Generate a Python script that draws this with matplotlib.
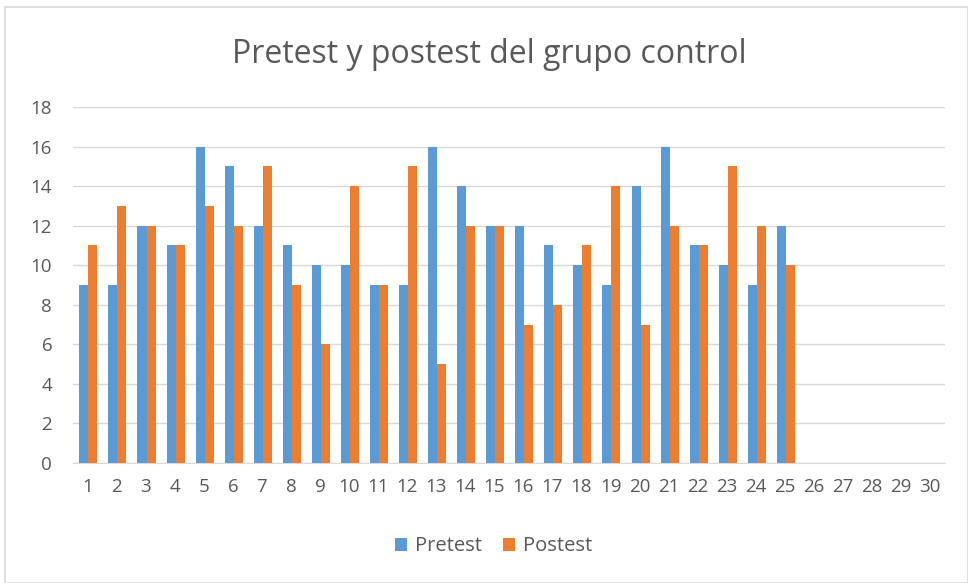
import numpy as np
import matplotlib
matplotlib.use("Agg")
import matplotlib.pyplot as plt
from matplotlib.patches import Rectangle

# data
categories = [str(i) for i in range(1, 31)]
pretest = [9, 9, 12, 11, 16, 15, 12, 11, 10, 10, 9, 9, 16, 14, 12, 12, 11, 10, 9, 14, 16, 11, 10, 9, 12]
postest = [11, 13, 12, 11, 13, 12, 15, 9, 6, 14, 9, 15, 5, 12, 12, 7, 8, 11, 14, 7, 12, 11, 15, 12, 10]

plt.rcParams['font.family'] = ['Open Sans', 'DejaVu Sans']
text_color = '#595959'
blue = '#5B9BD5'
orange = '#ED7D31'

fig = plt.figure(figsize=(9.68, 5.83), dpi=100)
ax = fig.add_axes([0.0754, 0.2058, 0.9006, 0.6107])

# light frame around the whole chart
fig.patches.append(Rectangle((0.005, 0.0), 0.995, 0.988, transform=fig.transFigure,
                             fill=False, edgecolor='#D9D9D9', linewidth=1.2))

x = np.arange(len(categories))
n = len(pretest)
w = 0.31
ax.bar(x[:n] - w / 2 + 0.03, pretest, width=w, color=blue, label='Pretest', zorder=3)
ax.bar(x[:n] + w / 2 + 0.03, postest, width=w, color=orange, label='Postest', zorder=3)

ax.set_xlim(-0.5, len(categories) - 0.5)
ax.set_ylim(0, 18)
ax.set_yticks(range(0, 19, 2))
ax.set_xticks(x)
ax.set_xticklabels(categories)
ax.grid(axis='y', color='#D9D9D9', linewidth=1, zorder=0)
for s in ['top', 'right', 'left']:
    ax.spines[s].set_visible(False)
ax.spines['bottom'].set_color('#D9D9D9')
ax.tick_params(axis='both', length=0, colors=text_color, labelsize=13.5)
ax.tick_params(axis='x', pad=11)
ax.tick_params(axis='y', pad=15)

fig.text(0.505, 0.907, 'Pretest y postest del grupo control', ha='center', va='center',
         fontsize=23, color=text_color)

fig.legend(loc='center', bbox_to_anchor=(0.51, 0.063), ncol=2, frameon=False,
           fontsize=14.5, labelcolor=text_color, handlelength=0.6, handleheight=0.6,
           columnspacing=1.0, handletextpad=0.4)

fig.savefig('out.png', dpi=100)
